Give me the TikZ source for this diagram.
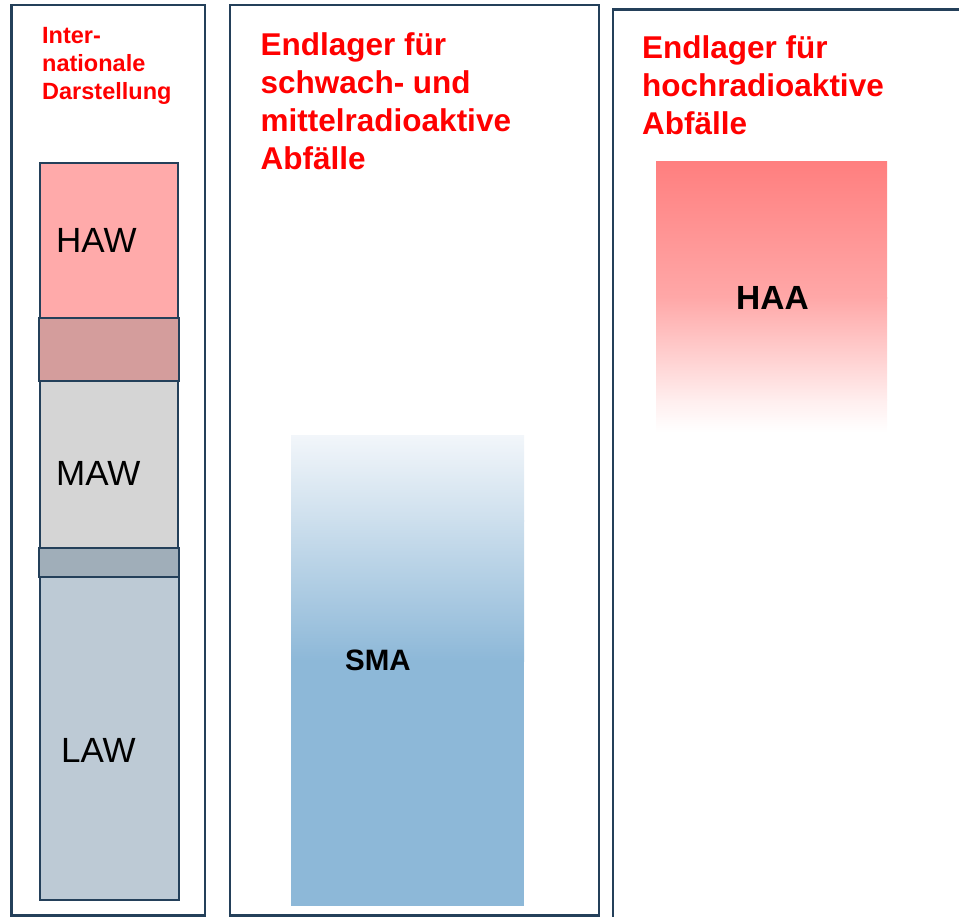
\documentclass[tikz,border=0pt]{standalone}
\usepackage{fontspec}
\setmainfont{Liberation Sans}
\definecolor{frameblue}{HTML}{24405A}
\definecolor{hawfill}{HTML}{FFAAAA}
\definecolor{ovlfill}{HTML}{D49D9C}
\definecolor{mawfill}{HTML}{D5D5D5}
\definecolor{ovlfilltwo}{HTML}{A0AEB9}
\definecolor{lawfill}{HTML}{BDCAD5}
\definecolor{smatop}{HTML}{F2F6FA}
\definecolor{smamid}{HTML}{CDDFED}
\definecolor{smabot}{HTML}{8DB8D8}
\definecolor{haatop}{HTML}{FF7F7F}
\definecolor{haamid}{HTML}{FFA8A8}
\definecolor{haalow}{HTML}{FFEEEE}
\begin{document}
\begin{tikzpicture}[x=1pt,y=-1pt,
  frame/.style={draw=frameblue, line width=2.5pt},
  stackbox/.style={draw=frameblue, line width=2.2pt},
  redtitle/.style={anchor=north west, inner sep=0pt, align=left, text=red},
  stacklabel/.style={anchor=base west, inner sep=0pt, font=\fontsize{35}{42}\selectfont},
  boldlabel/.style={anchor=base west, inner sep=0pt, font=\bfseries\fontsize{30}{36}\selectfont}]
\useasboundingbox (0,0) rectangle (959,917);
% frames
\draw[frame] (11.5,5) rectangle (205,915.5);
\draw[frame] (230,5) rectangle (599,915.5);
\draw[frame] (613,9.5) rectangle (990,950);
% left stack
\draw[stackbox, fill=hawfill] (40,163) rectangle (178,318);
\draw[stackbox, fill=mawfill] (40,381) rectangle (178,548);
\draw[stackbox, fill=lawfill] (40,577) rectangle (179,900);
\draw[stackbox, fill=ovlfill] (39,318) rectangle (179,381);
\draw[stackbox, fill=ovlfilltwo] (39,548) rectangle (179,577);
\node[stacklabel] (haw) at (56,253) {HAW};
\node[stacklabel] (maw) at (56,485) {MAW};
\node[stacklabel] (law) at (61,762) {LAW};
% SMA block
\shade[top color=smatop, bottom color=smamid] (291,435) rectangle (524,521);
\shade[top color=smamid, bottom color=smabot] (291,520) rectangle (524,661);
\fill[smabot] (291,660) rectangle (524,906);
\node[boldlabel, font=\bfseries\fontsize{29.5}{36}\selectfont] (sma) at (345,670) {SMA};
% HAA block
\shade[top color=haatop, bottom color=haamid] (656,162) rectangle (887,299);
\shade[top color=haamid, bottom color=haalow] (656,298) rectangle (887,401);
\shade[top color=haalow, bottom color=white] (656,400) rectangle (887,432);
\node[boldlabel, font=\bfseries\fontsize{33.5}{40}\selectfont] (haa) at (736,310) {HAA};
% titles
\node[redtitle, font=\bfseries\fontsize{23.5}{28.3}\selectfont] (titleint) at (42,27) {Inter-\\nationale\\Darstellung};
\node[redtitle, font=\bfseries\fontsize{31.5}{38.3}\selectfont] (titlesma) at (260.5,32) {Endlager für\\schwach- und\\mittelradioaktive\\Abfälle};
\node[redtitle, font=\bfseries\fontsize{31.5}{38.3}\selectfont] (titlehaa) at (642,35) {Endlager für\\hochradioaktive\\Abfälle};
\end{tikzpicture}
\end{document}
